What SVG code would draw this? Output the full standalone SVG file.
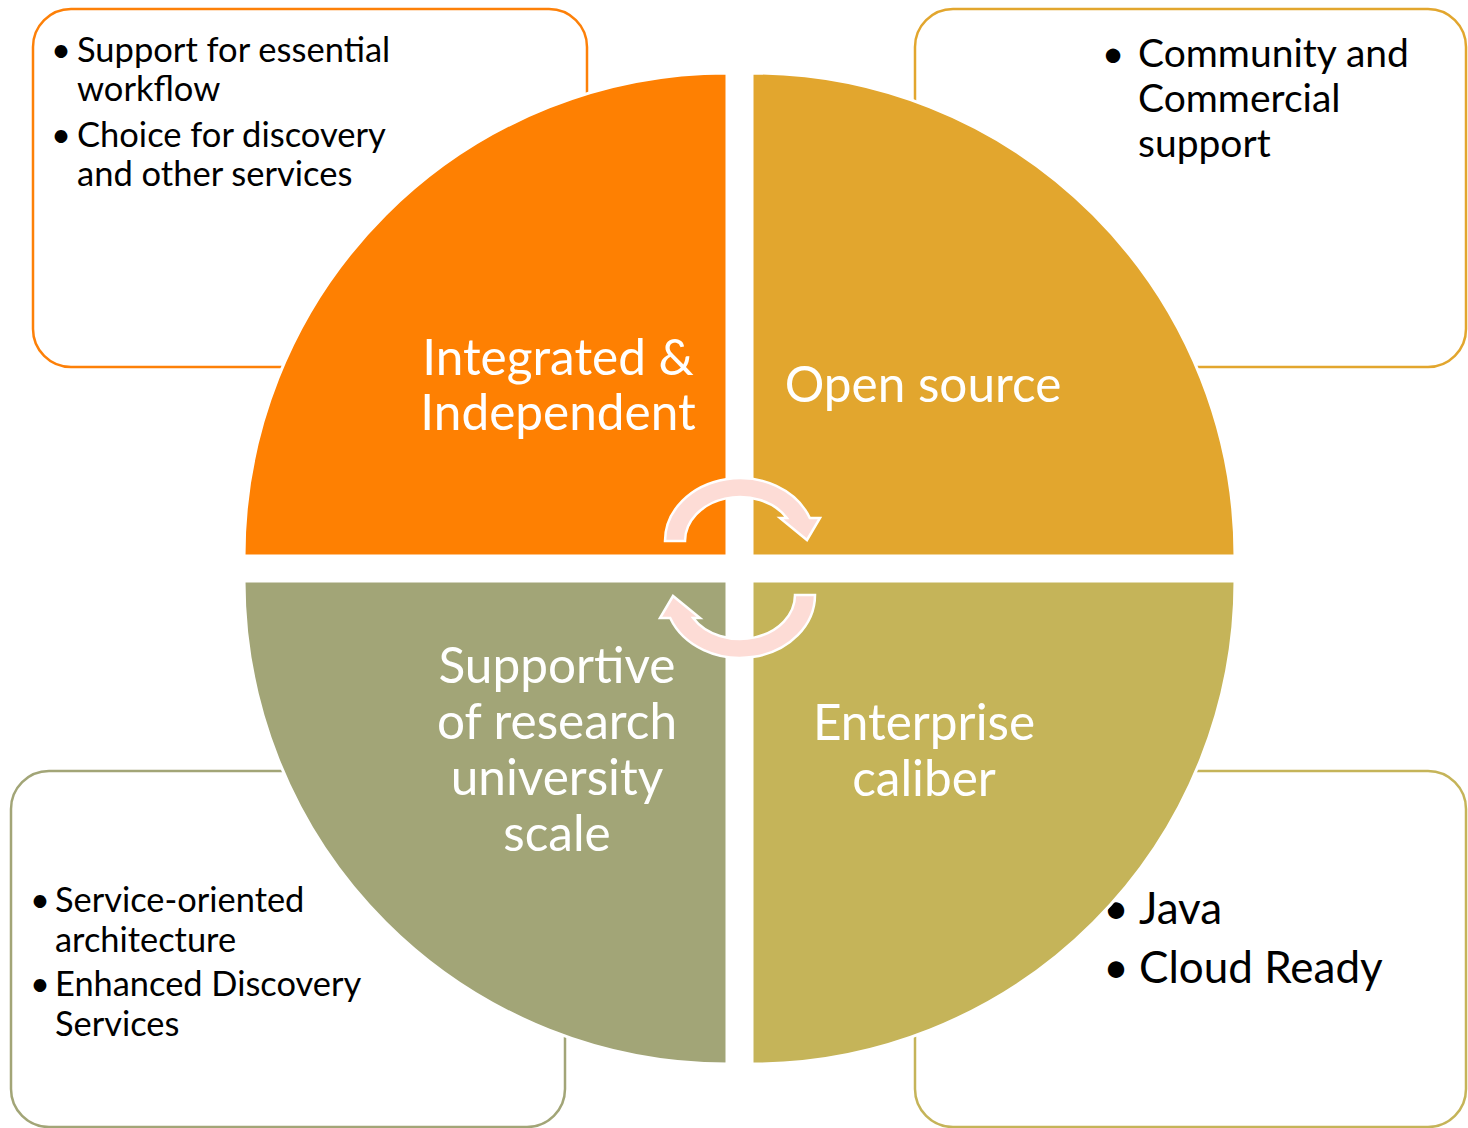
<svg xmlns="http://www.w3.org/2000/svg" width="1468" height="1128" viewBox="0 0 1468 1128">
  <style>
    .box { fill: #FFFFFF; stroke-width: 2.5; }
    .quad { stroke: #FFFFFF; stroke-width: 3; }
    .note { font-family: Lato, "Liberation Sans", sans-serif; fill: #000000; }
    .label { font-family: Lato, "Liberation Sans", sans-serif; fill: #FFFFFF; font-size: 49.5px; text-anchor: middle; }
    .cyc { fill: #FDDCD6; stroke: #FFFFFF; stroke-width: 2.5; stroke-linejoin: miter; }
  </style>
  <defs>
    <path id="cycArrow" d="M665,541 A75,63 0 0 1 809.8,518 L820,518 L807,540 L780,518 L786.9,518 A55,44 0 0 0 685,541 Z"/>
  </defs>
  <rect width="1468" height="1128" fill="#FFFFFF"/>

  <g id="box-integrated">
    <rect class="box" x="33" y="9" width="554" height="358" rx="38" stroke="#FD8008"/>
    <g class="note" font-size="34.5">
      <text x="61" y="62" text-anchor="middle">•</text>
      <text x="77" y="62">Support for essential</text>
      <text x="77" y="101">workflow</text>
      <text x="61" y="147" text-anchor="middle">•</text>
      <text x="77" y="147">Choice for discovery</text>
      <text x="77" y="186">and other services</text>
    </g>
  </g>
  <g id="box-open-source">
    <rect class="box" x="915" y="9" width="551" height="358" rx="38" stroke="#E2A62E"/>
    <g class="note" font-size="39">
      <text x="1113" y="67" text-anchor="middle">•</text>
      <text x="1138" y="67">Community and</text>
      <text x="1138" y="112">Commercial</text>
      <text x="1138" y="157">support</text>
    </g>
  </g>
  <g id="box-supportive">
    <rect class="box" x="11" y="771" width="554" height="356" rx="38" stroke="#A2A577"/>
    <g class="note" font-size="34.4">
      <text x="40" y="912" text-anchor="middle">•</text>
      <text x="55" y="912">Service-oriented</text>
      <text x="55" y="952">architecture</text>
      <text x="40" y="996" text-anchor="middle">•</text>
      <text x="55" y="996">Enhanced Discovery</text>
      <text x="55" y="1036">Services</text>
    </g>
  </g>
  <g id="box-enterprise">
    <rect class="box" x="915" y="771" width="551" height="356" rx="38" stroke="#C5B459"/>
    <g class="note" font-size="44">
      <text x="1116" y="924" text-anchor="middle">•</text>
      <text x="1139" y="924">Java</text>
      <text x="1116" y="983" text-anchor="middle">•</text>
      <text x="1139" y="983">Cloud Ready</text>
    </g>
  </g>

  <g id="quad-integrated">
    <path class="quad" d="M727,556 L244,556 A483,483 0 0 1 727,73 Z" fill="#FE8002"/>
    <text class="label" x="558" y="375">Integrated &amp;</text>
    <text class="label" x="558" y="430">Independent</text>
  </g>
  <g id="quad-open-source">
    <path class="quad" d="M752,556 L752,73 A483,483 0 0 1 1235,556 Z" fill="#E2A62E"/>
    <text class="label" x="923" y="402">Open source</text>
  </g>
  <g id="quad-enterprise">
    <path class="quad" d="M752,581 L1235,581 A483,483 0 0 1 752,1064 Z" fill="#C5B459"/>
    <text class="label" x="924" y="740">Enterprise</text>
    <text class="label" x="924" y="796">caliber</text>
  </g>
  <g id="quad-supportive">
    <path class="quad" d="M727,581 L727,1064 A483,483 0 0 1 244,581 Z" fill="#A2A577"/>
    <text class="label" x="557" y="683">Supportive</text>
    <text class="label" x="557" y="739">of research</text>
    <text class="label" x="557" y="795">university</text>
    <text class="label" x="557" y="851">scale</text>
  </g>

  <g id="connectors">
    <use href="#cycArrow" class="cyc"/>
    <use href="#cycArrow" class="cyc" transform="rotate(180 740 568)"/>
  </g>
</svg>
